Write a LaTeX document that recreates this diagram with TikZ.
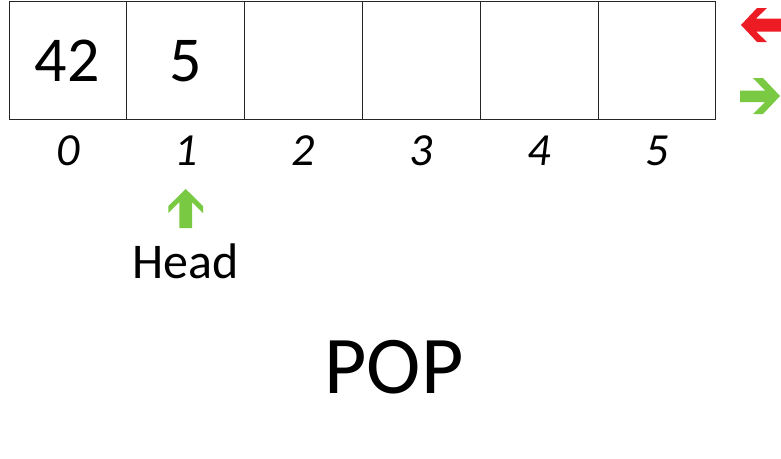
\documentclass[tikz,border=0pt]{standalone}
\usepackage{fontspec}
\setmainfont{Carlito}
\definecolor{popred}{HTML}{ED1C24}
\definecolor{popgreen}{HTML}{7AC943}
\begin{document}
\begin{tikzpicture}[x=1pt, y=-1pt,
    cell/.style={draw=black!85, line width=1pt, minimum width=117.8pt, minimum height=117.5pt, inner sep=0pt, outer sep=0pt},
    val/.style={font=\fontsize{64}{64}\selectfont, anchor=base, inner sep=0pt},
    idx/.style={font=\fontsize{46}{46}\selectfont\itshape, anchor=base, inner sep=0pt},
    lbl/.style={font=\fontsize{50}{50}\selectfont, anchor=base, inner sep=0pt}]
    \useasboundingbox (0,0) rectangle (781,458);
    % the array cells and their indices
    \foreach \i in {0,...,5} {
        \node[cell] (c\i) at ({67.9+117.8*\i},60.25) {};
        \node[idx] (i\i) at ({67.9+117.8*\i},165) {\i};
    }
    \node[val] (v0) at (67,81) {42};
    \node[val] (v1) at (185.7,81) {5};
    % arrows on the right
    \fill[popred] (741,25) -- (757,8) -- (767,8) -- (756,18.5) -- (781,18.5)
        -- (781,31.5) -- (756,31.5) -- (767,42) -- (757,42) -- cycle;
    \fill[popgreen] (780,96) -- (763,78) -- (753,78) -- (765,90.5) -- (740,90.5)
        -- (740,102) -- (765,102) -- (753,114) -- (763,114) -- cycle;
    % head pointer
    \fill[popgreen] (185.7,189) -- (203,206) -- (203,213) -- (192,202) -- (192,228)
        -- (179.4,228) -- (179.4,202) -- (168.4,213) -- (168.4,206) -- cycle;
    \node[lbl] (head) at (185.5,278) {Head};
    \node[font=\fontsize{82}{82}\selectfont, anchor=base, inner sep=0pt] (op) at (394,393) {POP};
\end{tikzpicture}
\end{document}
